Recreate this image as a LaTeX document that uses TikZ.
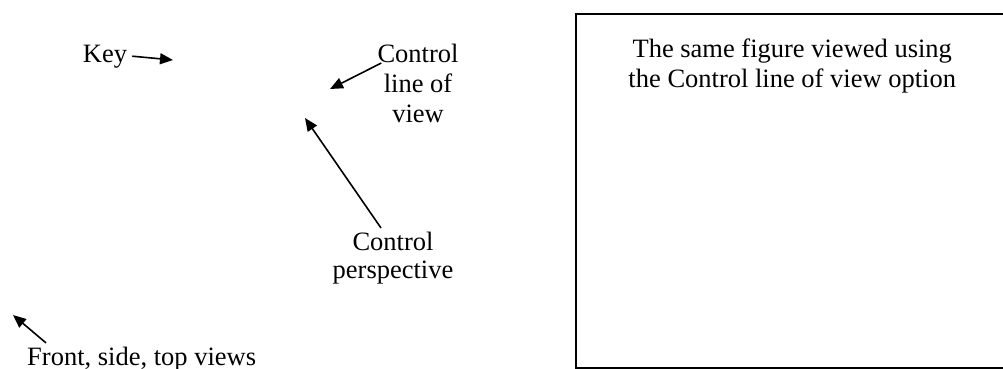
\documentclass[tikz,border=0pt]{standalone}
\usepackage{fontspec}
\setmainfont{Liberation Serif}
\usetikzlibrary{positioning, arrows.meta}

\begin{document}
\begin{tikzpicture}[x=1pt, y=-1pt,
    txt/.style={font=\fontsize{26.5}{30}\selectfont, align=center, inner sep=0pt},
    arr/.style={line width=1.6pt, -{Triangle[length=13pt, width=11pt]}},
  ]
  \useasboundingbox (0,0) rectangle (1003,368);
  % labels on the left
  \node[txt, anchor=base] (key) at (105,62) {Key};
  \node[txt, anchor=north] (clv) at (418,43.5) {Control\\line of\\view};
  \node[txt, anchor=north, font=\fontsize{26.5}{28}\selectfont] (cp) at (393,231.5) {Control\\perspective};
  \node[txt, anchor=base west] (front) at (27,365) {Front, side, top views};
  % where the arrows point
  \coordinate (keytip) at (173,60);
  \coordinate (clvtip) at (330,89);
  \coordinate (cptip) at (305,118);
  \coordinate (fronttip) at (13,315);
  \draw[arr] ([xshift=5pt]key.east) -- (keytip);
  \draw[arr] ([shift={(4,19.5)}]clv.north west) -- (clvtip);
  \draw[arr] ([shift={(-12,-3.5)}]cp.north) -- (cptip);
  \draw[arr] ([shift={(19,-3.5)}]front.north west) -- (fronttip);
  % the second view
  \node[draw, line width=1.5pt, inner sep=0pt, minimum width=433pt, minimum height=354pt, anchor=north west] (viewbox) at (575,13) {};
  \node[txt, below=26pt of viewbox.north] (viewtext) {The same figure viewed using\\the Control line of view option};
\end{tikzpicture}
\end{document}
